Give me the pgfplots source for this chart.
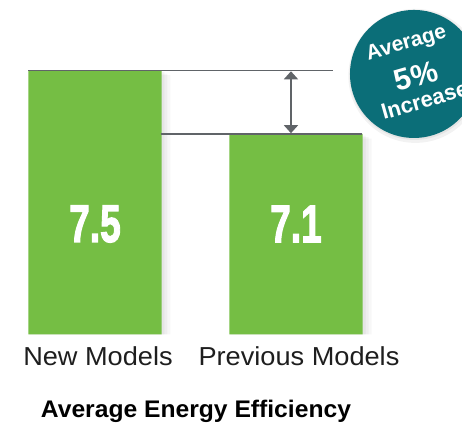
\documentclass[border=0pt]{standalone}
\usepackage{fontspec}
\setmainfont{Liberation Sans}
\newfontfamily\heavyfont{Liberation Sans Bold}[FakeBold=2.5]
\usepackage{graphicx}
\usepackage{pgfplots}
\pgfplotsset{compat=1.18}
\usetikzlibrary{arrows.meta}
\definecolor{bargreen}{HTML}{75BE44}
\definecolor{linegray}{HTML}{606468}
\definecolor{badgeteal}{HTML}{0B6E78}
\definecolor{labelblack}{HTML}{1E1E1E}
\begin{document}
\begin{tikzpicture}
\begin{axis}[
  scale only axis, width=462pt, height=334.5pt,
  xmin=-0.4726, xmax=1.8259, ymin=5.837, ymax=7.944,
  axis line style={draw=none}, tick style={draw=none}, major tick length=0pt,
  xtick={0,1}, xticklabels={\scalebox{1.045}[1]{New Models}, \scalebox{1.045}[1]{Previous Models}},
  ytick=\empty,
  xticklabel style={font=\fontsize{26}{26}\selectfont, text=labelblack, anchor=base, yshift=-31.5pt, xshift=3pt},
  xlabel={\scalebox{1.027}[1]{Average Energy Efficiency}},
  xlabel style={font=\bfseries\fontsize{24}{24}\selectfont, text=black, at={(axis description cs:0.4242,-0.2496)}, anchor=base},
  clip mode=individual,
]
\addplot[ybar, fill=black, fill opacity=0.03, draw=none, bar width=141pt, bar shift=5pt, forget plot] coordinates {(0,7.47) (1,7.07)};
\addplot[ybar, fill=black, fill opacity=0.035, draw=none, bar width=138pt, bar shift=3.5pt, forget plot] coordinates {(0,7.48) (1,7.08)};
\addplot[ybar, fill=black, fill opacity=0.04, draw=none, bar width=135pt, bar shift=2pt, forget plot] coordinates {(0,7.49) (1,7.09)};
\addplot[ybar, fill=bargreen, draw=none, bar width=133.4pt] coordinates {(0,7.5) (1,7.1)};
\addplot[linegray, line width=1.3pt, forget plot] coordinates {(-0.332,7.5) (1.184,7.5)};
\addplot[linegray, line width=1.3pt, forget plot] coordinates {(0.328,7.1) (1.328,7.1)};
\draw[linegray, line width=1.5pt, {Triangle[length=8pt,width=14pt]}-{Triangle[length=8pt,width=14pt]}] (axis cs:0.975,7.495) -- (axis cs:0.975,7.105);
\node[white, font=\heavyfont\fontsize{53}{53}\selectfont] at (axis cs:0,6.533) {\scalebox{0.70}[1]{7.5}};
\node[white, font=\heavyfont\fontsize{53}{53}\selectfont] at (axis cs:1,6.533) {\scalebox{0.70}[1]{7.1}};
\fill[black, opacity=0.05] (axis cs:1.594,7.466) circle[radius=67pt];
\fill[black, opacity=0.06] (axis cs:1.590,7.472) circle[radius=65pt];
\fill[badgeteal] (axis cs:1.587,7.478) circle[radius=64pt];
\node[white, rotate=16, font=\bfseries\fontsize{21}{21}\selectfont] at (axis cs:1.550,7.667) {Average};
\node[white, rotate=16, font=\bfseries\fontsize{30}{30}\selectfont] at (axis cs:1.597,7.465) {5\%};
\node[white, rotate=16, font=\bfseries\fontsize{22}{22}\selectfont] at (axis cs:1.640,7.312) {Increase};
\end{axis}
\pgfresetboundingbox
\path[use as bounding box] (current axis.south west) ++(0,-89.5pt) rectangle (current axis.north east);
\end{tikzpicture}
\end{document}
